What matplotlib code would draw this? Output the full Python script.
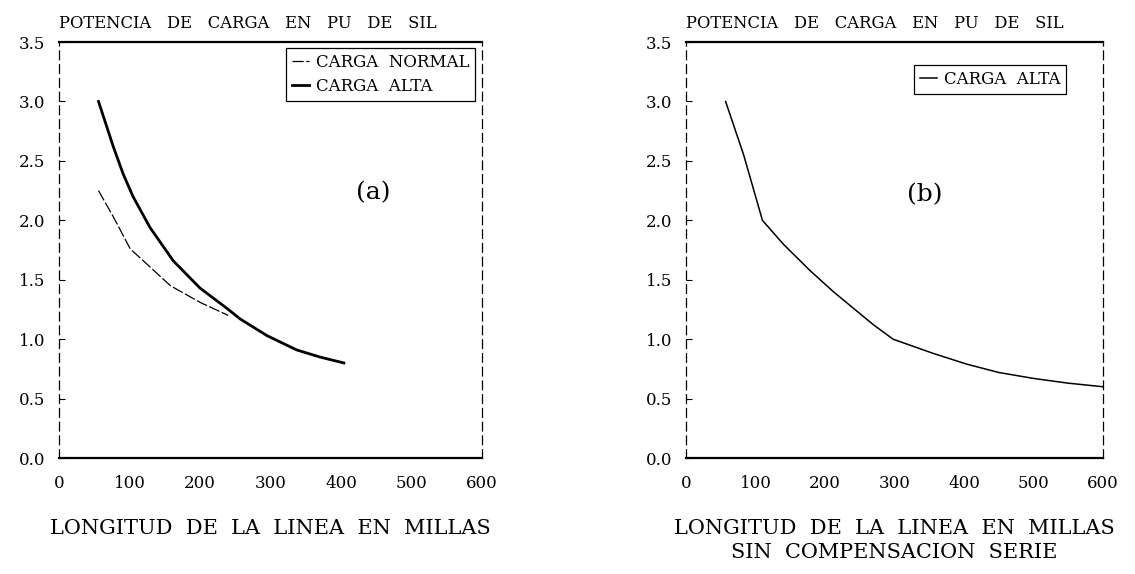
import matplotlib
matplotlib.use("Agg")
import matplotlib.pyplot as plt

# panel (a): load power in PU of SIL vs line length (miles)
alta_a_x = [56, 77, 91, 105, 129, 162, 200, 238, 257, 295, 337, 370, 404]
alta_a_y = [3.0, 2.62, 2.39, 2.20, 1.94, 1.66, 1.43, 1.26, 1.17, 1.03, 0.91, 0.85, 0.80]
normal_a_x = [56, 77, 101, 125, 158, 200, 240]
normal_a_y = [2.25, 2.03, 1.76, 1.63, 1.45, 1.31, 1.20]

# panel (b): without series compensation
alta_b_x = [57, 83, 110, 140, 178, 212, 243, 270, 298, 356, 404, 450, 500, 550, 600]
alta_b_y = [3.0, 2.55, 2.0, 1.80, 1.58, 1.40, 1.25, 1.12, 1.0, 0.88, 0.79, 0.72, 0.67, 0.63, 0.60]

x_ticks = [0, 100, 200, 300, 400, 500, 600]
y_ticks = [0.0, 0.5, 1.0, 1.5, 2.0, 2.5, 3.0, 3.5]
y_labels = ["0.0", "0.5", "1.0", "1.5", "2.0", "2.5", "3.0", "3.5"]

plt.rcParams["font.family"] = ["DejaVu Serif"]

fig = plt.figure(figsize=(11.35, 5.74), dpi=100)
ax_a = fig.add_axes([0.052, 0.202, 0.3727, 0.7247])
ax_b = fig.add_axes([0.6044, 0.202, 0.3674, 0.7247])

ax_a.plot(normal_a_x, normal_a_y, color="black", lw=0.9, ls=(0, (9, 2)),
          label="CARGA  NORMAL")
ax_a.plot(alta_a_x, alta_a_y, color="black", lw=2.0, label="CARGA  ALTA")
ax_b.plot(alta_b_x, alta_b_y, color="black", lw=1.1, label="CARGA  ALTA")

for ax in (ax_a, ax_b):
    ax.set_xlim(0, 600)
    ax.set_ylim(0, 3.5)
    ax.set_xticks(x_ticks)
    ax.set_yticks(y_ticks)
    ax.set_yticklabels(y_labels)
    ax.tick_params(axis="x", length=0, pad=12, labelsize=12)
    ax.tick_params(axis="y", direction="in", length=4, width=0.8, pad=10,
                   labelsize=12)
    ax.spines["top"].set_linewidth(1.6)
    ax.spines["bottom"].set_linewidth(1.6)
    for side in ("left", "right"):
        ax.spines[side].set_linewidth(0.9)
        ax.spines[side].set_linestyle((0, (7, 4)))
    ax.text(0.0, 1.045, "POTENCIA   DE   CARGA   EN   PU   DE   SIL",
            transform=ax.transAxes, fontsize=11.8, va="center", ha="left")

ax_a.set_xlabel("LONGITUD  DE  LA  LINEA  EN  MILLAS", fontsize=15,
                labelpad=20)
ax_b.set_xlabel("LONGITUD  DE  LA  LINEA  EN  MILLAS\nSIN  COMPENSACION  SERIE",
                fontsize=15, labelpad=20, linespacing=1.3)

ax_a.text(446, 2.23, "(a)", fontsize=18, ha="center", va="center")
ax_b.text(344, 2.22, "(b)", fontsize=18, ha="center", va="center")

for ax, loc in ((ax_a, (0.983, 0.986)), (ax_b, (0.911, 0.945))):
    leg = ax.legend(loc="upper right", bbox_to_anchor=loc, fontsize=12,
                    handlelength=1.0, handletextpad=0.4, borderpad=0.35,
                    labelspacing=0.45, borderaxespad=0, fancybox=False,
                    framealpha=1, edgecolor="black")
    leg.get_frame().set_linewidth(0.9)

fig.savefig("out.png", dpi=100)
